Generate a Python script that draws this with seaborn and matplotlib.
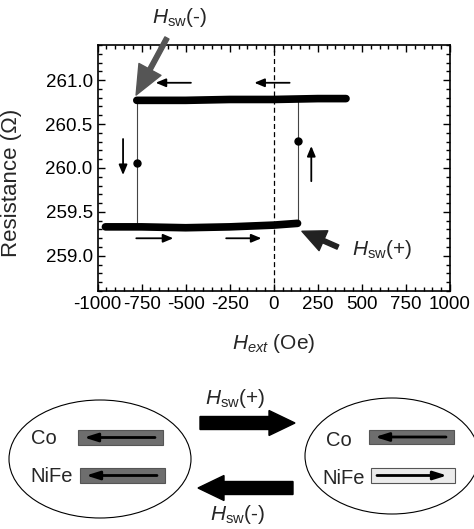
import numpy as np
import pandas as pd
import matplotlib
matplotlib.use("Agg")
import matplotlib.pyplot as plt
import seaborn as sns
from matplotlib.patches import Ellipse, Rectangle, FancyArrow
from matplotlib.ticker import MultipleLocator

# ---------------- data ----------------
upper_H = [-777, -500, -250, 0, 250, 410]
upper_R = [260.77, 260.77, 260.78, 260.78, 260.79, 260.79]
lower_H = [-955, -750, -500, -250, 0, 135]
lower_R = [259.33, 259.33, 259.32, 259.33, 259.35, 259.37]
sw_minus_H = [-777, -777, -777]
sw_minus_R = [260.77, 260.06, 259.34]
sw_plus_H = [135, 135, 135]
sw_plus_R = [259.37, 260.31, 260.77]
x_ticks = [-1000, -750, -500, -250, 0, 250, 500, 750, 1000]
y_ticks = [259.0, 259.5, 260.0, 260.5, 261.0]

sns.set_style("ticks")
plt.rcParams['font.family'] = ['Liberation Sans', 'DejaVu Sans']
plt.rcParams['mathtext.fontset'] = 'custom'
plt.rcParams['mathtext.rm'] = 'Liberation Sans'
plt.rcParams['mathtext.it'] = 'Liberation Sans:italic'
plt.rcParams['mathtext.bf'] = 'Liberation Sans:bold'

W, H = 474, 529
fig = plt.figure(figsize=(W / 100, H / 100), dpi=100)
ax = fig.add_axes([97.5 / W, 1 - 291 / H, 352.5 / W, 246 / H])

up = pd.DataFrame({"H": upper_H, "R": upper_R})
lo = pd.DataFrame({"H": lower_H, "R": lower_R})
sns.lineplot(data=up, x="H", y="R", ax=ax, color="black", lw=5.5,
             solid_capstyle="round", sort=False)
sns.lineplot(data=lo, x="H", y="R", ax=ax, color="black", lw=5.5,
             solid_capstyle="round", sort=False)
for hh, rr in ((sw_minus_H, sw_minus_R), (sw_plus_H, sw_plus_R)):
    ax.plot(hh, rr, color="#444444", lw=0.8, zorder=1)
    ax.plot(hh[1], rr[1], "o", color="black", ms=5)

ax.axvline(0, color="black", lw=0.9, ls=(0, (4, 2.5)))

ax.set_xlim(-1000, 1000)
ax.set_ylim(258.6, 261.4)
ax.set_xticks(x_ticks)
ax.set_yticks(y_ticks)
ax.set_xticklabels([str(v) for v in x_ticks])
ax.set_yticklabels([f"{v:.1f}" for v in y_ticks])
ax.xaxis.set_minor_locator(MultipleLocator(50))
ax.yaxis.set_minor_locator(MultipleLocator(0.1))
ax.tick_params(which="both", direction="in", top=True, right=True,
               labelsize=13.5, width=1.0, colors="black")
ax.tick_params(which="major", length=5)
ax.tick_params(which="minor", length=3)
for s in ax.spines.values():
    s.set_linewidth(1.2)
    s.set_color("black")
ax.set_xlabel(r"$H_{ext}$ (Oe)", fontsize=15, labelpad=14)
ax.set_ylabel("Resistance (Ω)", fontsize=16)
ax.yaxis.set_label_coords(-0.215, 0.44)

# small direction arrows
def arr(x0, y0, x1, y1):
    ax.annotate("", xy=(x1, y1), xytext=(x0, y0),
                arrowprops=dict(arrowstyle="-|>,head_width=0.25,head_length=0.6",
                                color="black", lw=1.3, shrinkA=0, shrinkB=0))

arr(-470, 260.97, -670, 260.97)
arr(90, 260.97, -110, 260.97)
arr(-780, 259.20, -570, 259.20)
arr(-270, 259.20, -70, 259.20)
arr(-855, 260.33, -855, 259.92)
arr(213, 259.85, 213, 260.25)

# big annotation arrows
ax.annotate("", xy=(-781, 260.83), xytext=(-606, 261.48), annotation_clip=False,
            arrowprops=dict(arrowstyle="simple,head_width=1.2,head_length=1.4,tail_width=0.22",
                            color="#555555", mutation_scale=15, shrinkA=0, shrinkB=0))
ax.text(-532, 261.71, r"$H_{\mathrm{sw}}$(-)", fontsize=15, ha="center", va="center")
ax.annotate("", xy=(160, 259.28), xytext=(364, 259.10), annotation_clip=False,
            arrowprops=dict(arrowstyle="simple,head_width=1.2,head_length=1.3,tail_width=0.25",
                            color="#222222", mutation_scale=13, shrinkA=0, shrinkB=0))
ax.text(445, 259.07, r"$H_{\mathrm{sw}}$(+)", fontsize=15, ha="left", va="center")

# ---------------- lower schematic (pixel coordinates) ----------------
ov = fig.add_axes([0, 0, 1, 1])
ov.set_xlim(0, W)
ov.set_ylim(H, 0)
ov.axis("off")
ov.patch.set_alpha(0)

ov.add_patch(Ellipse((100, 459), 182, 118, fill=False, ec="black", lw=0.8))
ov.add_patch(Ellipse((392, 456), 174, 116, fill=False, ec="black", lw=0.8))

def bar(x, y, w, h, fc, direction):
    ov.add_patch(Rectangle((x, y), w, h, fc=fc, ec="#555555", lw=0.8))
    yc = y + h / 2
    if direction < 0:
        a, b = x + w - 8, x + 6
    else:
        a, b = x + 6, x + w - 8
    ov.annotate("", xy=(b, yc), xytext=(a, yc),
                arrowprops=dict(arrowstyle="-|>,head_width=0.25,head_length=0.8",
                                color="black", lw=2.0, shrinkA=0, shrinkB=0))

bar(78, 430, 85, 15, "#6e6e6e", -1)
bar(80, 468, 85, 15, "#6e6e6e", -1)
bar(369, 430, 85, 14, "#6e6e6e", -1)
bar(371, 468, 84, 15, "#ececec", 1)

ov.text(31, 438, "Co", fontsize=14.5, ha="left", va="center")
ov.text(30, 476, "NiFe", fontsize=14.5, ha="left", va="center")
ov.text(326, 441, "Co", fontsize=14.5, ha="left", va="center")
ov.text(322, 478, "NiFe", fontsize=14.5, ha="left", va="center")

ov.add_patch(FancyArrow(200, 423, 95, 0, width=13, head_width=25,
                        head_length=26, length_includes_head=True, color="black"))
ov.add_patch(FancyArrow(293, 488, -95, 0, width=13, head_width=25,
                        head_length=26, length_includes_head=True, color="black"))
ov.text(235, 399, r"$H_{\mathrm{sw}}$(+)", fontsize=15, ha="center", va="center")
ov.text(238, 515, r"$H_{\mathrm{sw}}$(-)", fontsize=15, ha="center", va="center")

fig.savefig("out.png", dpi=100, facecolor="white")
